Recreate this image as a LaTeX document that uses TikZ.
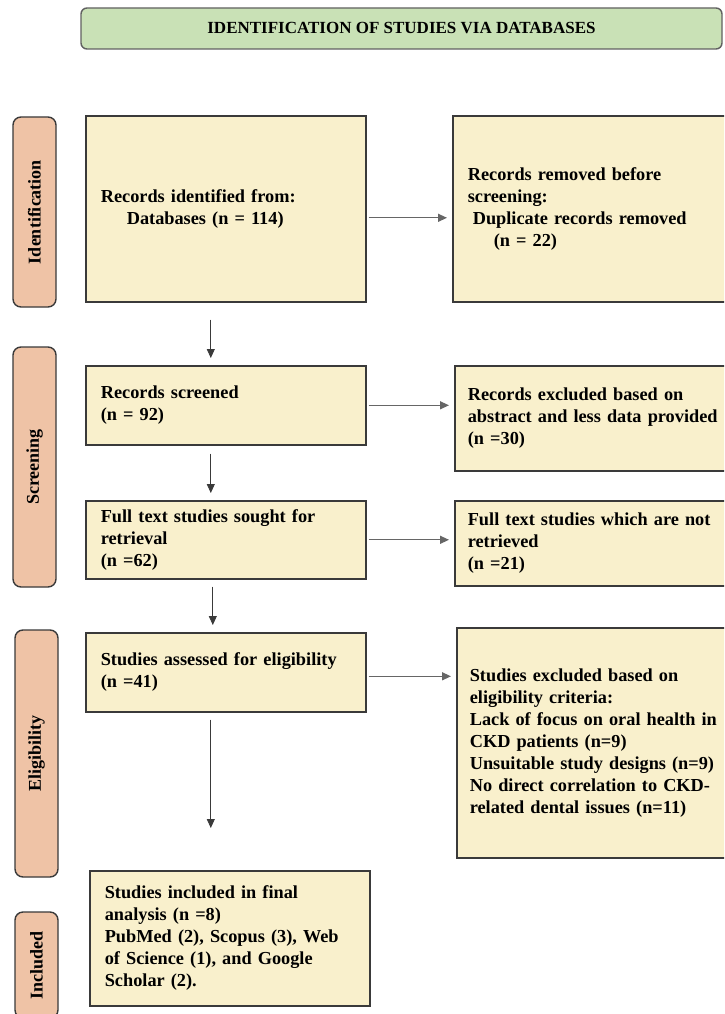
\documentclass[tikz,border=0pt]{standalone}
\usepackage{fontspec}
\setmainfont{Liberation Serif}
\usetikzlibrary{arrows.meta,positioning}
\definecolor{boxfill}{HTML}{F9F0CC}
\definecolor{stagefill}{HTML}{EFC3A6}
\definecolor{headfill}{HTML}{C9E1B6}
\definecolor{edgegray}{HTML}{3A3A3A}
\begin{document}
\begin{tikzpicture}[x=1pt, y=-1pt,
    box/.style={draw=edgegray, line width=1.6pt, fill=boxfill, anchor=north west,
        align=left, inner xsep=15pt, font=\bfseries\fontsize{18.3}{22}\selectfont},
    lbox/.style={box, text width=250pt},
    rbox/.style={box, text width=262pt},
    stage/.style={draw=edgegray, line width=1.4pt, fill=stagefill, rounded corners=8pt,
        rotate=90, minimum height=43pt, inner sep=0pt, font=\bfseries\fontsize{18}{20}\selectfont},
    side/.style={draw=gray!80!black, line width=1.3pt, -{Triangle[length=9pt,width=8pt]},
        shorten <=2pt, shorten >=5pt},
    down/.style={draw=edgegray, line width=0.8pt, -{Triangle[length=9pt,width=8pt]}}]
    \clip (0,0) rectangle (724,1014);
    \fill[white] (0,0) rectangle (724,1014);

    % Заголовок
    \node[draw=edgegray!80, line width=1.4pt, fill=headfill, rounded corners=6pt,
        minimum width=641pt, minimum height=41pt,
        font=\bfseries\fontsize{17}{18}\selectfont] (title) at (401.5,28.5)
        {IDENTIFICATION OF STUDIES VIA DATABASES};

    % Этапы слева
    \node[stage, minimum width=190pt] (idlab) at (34.5,212) {Identification};
    \node[stage, minimum width=240pt] (scrlab) at (34.5,467) {Screening};
    \node[stage, minimum width=247pt] (eliglab) at (36.5,753.5) {Eligibility};
    \node[stage, minimum width=106pt] (inclab) at (36.5,965) {Included};

    % Основная колонка
    \node[lbox, minimum height=186pt] (ident) at (85,115)
        {Records identified from:\\\hspace*{26pt}Databases (n = 114)\\[14pt]};
    \node[lbox, minimum height=79pt] (screened) at (85,365)
        {Records screened\\(n = 92)};
    \node[lbox, minimum height=78pt] (sought) at (85,500)
        {Full text studies sought for\\retrieval\\(n =62)};
    \node[lbox, minimum height=79pt] (assessed) at (85,632)
        {Studies assessed for eligibility\\(n =41)};
    \node[lbox, minimum height=135pt] (incl) at (89,870)
        {Studies included in final\\analysis (n =8)\\PubMed (2), Scopus (3), Web\\of Science (1), and Google\\Scholar (2).};

    % Правая колонка
    \node[rbox, minimum height=186pt] (removed) at (452,115)
        {Records removed before\\screening:\\\hspace*{5pt}Duplicate records removed\\\hspace*{26pt}(n = 22)\\[14pt]};
    \node[rbox, minimum height=105pt, inner xsep=13pt] (excl) at (454,365)
        {Records excluded based on\\abstract and less data provided\\(n =30)};
    \node[rbox, minimum height=85pt, inner xsep=13pt] (notret) at (454,500)
        {Full text studies which are not\\retrieved\\(n =21)};
    \node[rbox, minimum height=230pt, inner xsep=13pt] (exclelig) at (456,627)
        {Studies excluded based on\\eligibility criteria:\\Lack of focus on oral health in\\CKD patients (n=9)\\Unsuitable study designs (n=9)\\No direct correlation to CKD-\\related dental issues (n=11)\\[14pt]};

    % Стрелки вправо
    \draw[side] ([yshift=-9pt]ident.east) -- ([yshift=-9pt]ident.east -| removed.west);
    \draw[side] (screened.east) -- (screened.east -| excl.west);
    \draw[side] (sought.east) -- (sought.east -| notret.west);
    \draw[side] ([yshift=-4pt]assessed.east) -- ([yshift=-4pt]assessed.east -| exclelig.west);

    % Стрелки вниз
    \draw[down, shorten <=17pt, shorten >=7pt] ([xshift=-15pt]ident.south) -- ([xshift=-15pt]ident.south |- screened.north);
    \draw[down, shorten <=8pt, shorten >=7pt] ([xshift=-15pt]screened.south) -- ([xshift=-15pt]screened.south |- sought.north);
    \draw[down, shorten <=7pt, shorten >=7pt] ([xshift=-13pt]sought.south) -- ([xshift=-13pt]sought.south |- assessed.north);
    \draw[down, shorten <=7pt, shorten >=42pt] ([xshift=-15pt]assessed.south) -- ([xshift=-15pt]assessed.south |- incl.north);
\end{tikzpicture}
\end{document}
